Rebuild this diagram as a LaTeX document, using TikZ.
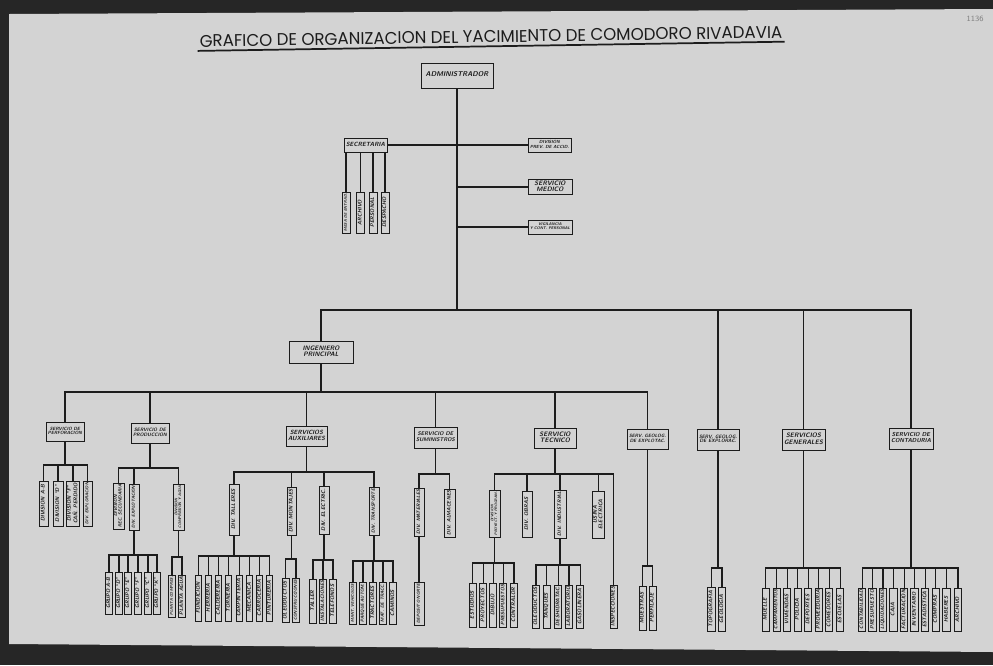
\documentclass[tikz,border=0pt]{standalone}
\usepackage{fontspec}
\usepackage{graphicx}
\newfontfamily\titlefont{Poppins}
\definecolor{paper}{HTML}{D3D3D3}
\definecolor{ink}{HTML}{1C1C1C}
\newcommand\fitw[2]{\resizebox{\ifdim\width>#1 #1\else\width\fi}{!}{#2}}
\newcommand\HB[6]{\node[hbx,minimum width=#4*0.75pt,minimum height=#5*0.75pt] (#1) at (#2,#3) {\fitw{\dimexpr#4pt*3/4-3pt\relax}{\begin{tabular}{@{}c@{}}#6\end{tabular}}};}
\newcommand\VB[6]{\node[vbx,minimum width={(#4-#3)*0.75pt},minimum height=#5*0.75pt] (#1) at (#2,{(#3+#4)/2}) {\fitw{\dimexpr(#4pt-#3pt)*3/4-2.5pt\relax}{\begin{tabular}{@{}c@{}}#6\end{tabular}}};}
\newcommand\tree[4]{\path (0,#2) coordinate (tb);
  \foreach \i in {1,...,#4}{\draw[ln] (#1) -- (#1 |- tb) -| (#3\i.east);}}
\begin{document}
\begin{tikzpicture}[x=0.75pt,y=-0.75pt,
  hbx/.style={draw=ink,line width=0.75pt,fill=paper,inner sep=0.5pt,text=ink,font=\sffamily\bfseries\itshape\fontsize{4.8}{5.0}\selectfont},
  vbx/.style={draw=ink,line width=0.75pt,fill=paper,inner sep=0.3pt,text=ink,rotate=90,font=\sffamily\bfseries\itshape\fontsize{4.0}{4.1}\selectfont},
  ln/.style={draw=ink,line width=0.95pt}]
\useasboundingbox (0,0) rectangle (993,665);
\fill[black!85] (0,0) rectangle (993,665);
\fill[paper] (9,14) -- (993,9) -- (993,652) -- (9,644) -- cycle;

% title
\node[inner xsep=1.5pt,inner ysep=2.6pt,rotate=0.9,text=ink] (title) at (491,36.5)
  {\resizebox{437pt}{9pt}{\titlefont GRAFICO DE ORGANIZACION DEL YACIMIENTO DE COMODORO RIVADAVIA}};
\draw[ink,line width=1.3pt] (title.south west) -- (title.south east);
\node[text=black!50,font=\sffamily\fontsize{6}{6}\selectfont] (pgno) at (975,19) {1136};

% upper part
\HB{admin}{457}{75.5}{72}{25}{{\fontsize{5.2}{5.5}\selectfont ADMINISTRADOR}}
\HB{secr}{365.5}{145}{43}{14}{SECRETARIA}
\HB{divprev}{549.5}{145}{43}{14}{DIVISION\\PREV. DE ACCID.}
\HB{medico}{550}{187}{44}{14}{SERVICIO\\MEDICO}
\HB{vigil}{550}{227}{44}{14}{VIGILANCIA\\Y CONT. PERSONAL}
\foreach \i/\x/\t in {1/346/MESA DE ENTRAD., 2/360.5/ARCHIVO, 3/373/PERSONAL, 4/385/DESPACHO}
  {\VB{sc\i}{\x}{192}{233}{8}{\t}}

% level 2 and 3
\HB{ingprin}{321}{352}{64}{22}{INGENIERO\\PRINCIPAL}
\HB{perfor}{65}{431.5}{38}{19}{SERVICIO DE\\PERFORACION}
\HB{produc}{150}{433}{38}{20}{SERVICIO DE\\PRODUCCION}
\HB{auxil}{306.5}{436}{41}{20}{SERVICIOS\\AUXILIARES}
\HB{sumin}{435.5}{437.5}{43}{21}{SERVICIO DE\\SUMINISTROS}
\HB{tecnico}{555}{438}{42}{20}{SERVICIO\\TECNICO}
\HB{geoexplot}{647.5}{439}{41}{20}{SERV. GEOLOG.\\DE EXPLOTAC.}
\HB{geoexplor}{718}{439.5}{42}{21}{SERV. GEOLOG.\\DE EXPLORAC.}
\HB{generales}{803.5}{439.5}{43}{21}{SERVICIOS\\GENERALES}
\HB{contad}{911}{438.5}{44}{21}{SERVICIO DE\\CONTADURIA}

% perforacion
\VB{pf1}{43.5}{481}{526}{9}{DIVISION A-B}
\VB{pf2}{58}{481}{526}{10}{DIVISION ``D''}
\VB{pf3}{73}{481}{526}{10}{DIVISION ``F''\\CAÑ. PERDIDO}
\VB{pf4}{87.5}{481}{526}{9}{DIV. EXPLORACION}
% produccion
\VB{pd1}{118.5}{483}{529}{11}{DIVISION\\REC. SECUNDARIA}
\VB{pd2}{134}{484}{530}{10}{DIV. EXPLOTACION}
\VB{pd3}{178.5}{484}{530}{11}{DIVISION\\COMPRESION Y AGUA}
\foreach \i/\x/\t in {1/109/GRUPO A-B, 2/119/GRUPO ``D'', 3/128/GRUPO ``E'', 4/138/GRUPO ``F'', 5/148/GRUPO ``C'', 6/157/GRUPO ``K''}
  {\VB{ex\i}{\x}{572}{614}{6.5}{\t}}
\foreach \i/\x/\t in {1/172/PLANTA COMPRES., 2/182/PLANTA AGUA}
  {\VB{cp\i}{\x}{575}{617}{6.5}{\t}}
% auxiliares
\VB{ax1}{234}{484}{535}{10}{DIV. TALLERES}
\VB{ax2}{291.5}{487}{535}{9}{DIV. MONTAJES}
\VB{ax3}{324}{486}{534}{10}{DIV. ELECTRIC.}
\VB{ax4}{374}{487}{535}{10}{DIV. TRANSPORTE}
\foreach \i/\x/\t in {1/198.7/FUNDICION, 2/208.7/HERRERIA, 3/218.7/CALDERERIA, 4/228.7/TORNERIA, 5/239.3/CARPINTERIA, 6/249.7/MECANICA, 7/259.7/CARROCERIA, 8/269.7/PINTURERIA}
  {\VB{ta\i}{\x}{575}{621}{6.5}{\t}}
\foreach \i/\x/\t in {1/285.5/OLEODUCTOS, 2/296/CONSTRUCCIONES}
  {\VB{mo\i}{\x}{578}{622}{7}{\t}}
\foreach \i/\x/\t in {1/313/TALLER, 2/323/INSTALACIONES, 3/333/TELEFONOS}
  {\VB{el\i}{\x}{579}{623}{7.5}{\t}}
\foreach \i/\x/\t in {1/353/MANT. VEHICULOS, 2/363/PARQUE AUTOM., 3/373/TRACTORES, 4/383/MAT. DE TRACC., 5/393/CAMINOS}
  {\VB{tr\i}{\x}{582}{624}{7}{\t}}
% suministros
\VB{su1}{419}{488}{536}{10}{DIV. MATERIALES}
\VB{su2}{449.5}{489}{537}{11}{DIV. ALMACENES}
\VB{dp1}{419}{582}{625}{10}{DEPOSITO NORTE}
% tecnico
\VB{te1}{494.5}{490}{537}{11}{DIVISION\\PROYECT. Y PROGRAM.}
\VB{te2}{527}{491}{537}{10}{DIV. OBRAS}
\VB{te3}{560}{490}{538}{12}{DIV. INDUSTRIAL}
\VB{te4}{598.5}{491}{538}{11}{USINA\\ELECTRICA}
\VB{te5}{613.5}{585}{628}{7}{INSPECCIONES}
\foreach \i/\x/\t in {1/472.7/ESTUDIOS, 2/483.3/PROYECTOS, 3/493.3/DIBUJO, 4/503.3/PRESUPUESTOS, 5/514/CONTRALOR}
  {\VB{pr\i}{\x}{583}{627}{7}{\t}}
\foreach \i/\x/\t in {1/536/OLEODUCTOS, 2/546.7/TANQUES, 3/558.3/DESHIDRATAC., 4/569/LABORATORIO, 5/580.3/GASOLINERA}
  {\VB{id\i}{\x}{585}{628}{7}{\t}}
% geologia, generales, contaduria
\foreach \i/\x/\t in {1/642.5/MUESTRAS, 2/652.5/PERFILAJE}
  {\VB{gx\i}{\x}{586}{630}{7}{\t}}
\foreach \i/\x/\t in {1/711.3/TOPOGRAFIA, 2/722/GEOLOGIA}
  {\VB{gr\i}{\x}{587}{631}{7.5}{\t}}
\foreach \i/\x/\t in {1/765.8/MUELLE, 2/776.5/CAMPAMENTOS, 3/787.2/VIVIENDAS, 4/797.8/POLICIA, 5/808.3/DEPORTES, 6/818.7/PROVEEDURIA, 7/829.2/COMEDORES, 8/840.2/ESCUELAS}
  {\VB{gn\i}{\x}{588}{631}{7}{\t}}
\foreach \i/\x/\t in {1/862.2/CONTABILIDAD, 2/872.7/PRESUPUESTO, 3/883/LIQUIDACIONES, 4/893.3/CAJA, 5/904.2/FACTURACION, 6/914.7/INVENTARIO, 7/925.2/ESTADISTICA, 8/935.8/COMPRAS, 9/946.7/HABERES, 10/958/ARCHIVO}
  {\VB{ct\i}{\x}{588}{631}{7.5}{\t}}

% connectors
\draw[ln] (secr.east) -- (divprev.west);
\draw[ln] (admin.south |- medico.west) -- (medico.west);
\draw[ln] (admin.south |- vigil.west) -- (vigil.west);
\foreach \i in {1,...,4}{\draw[ln] (sc\i.east |- secr.south) -- (sc\i.east);}
\path (0,310) coordinate (bus0);
\foreach \c in {ingprin,geoexplor,generales,contad}
  {\draw[ln] (admin.south) -- (admin.south |- bus0) -| (\c.north);}
\path (0,392) coordinate (bus1);
\foreach \c in {perfor,produc,auxil,sumin,tecnico,geoexplot}
  {\draw[ln] (ingprin.south) -- (ingprin.south |- bus1) -| (\c.north);}
\tree{perfor.south}{465}{pf}{4}
\tree{produc.south}{468}{pd}{3}
\tree{pd2.west}{555}{ex}{6}
\tree{pd3.west}{557}{cp}{2}
\tree{auxil.south}{472}{ax}{4}
\tree{ax1.west}{556}{ta}{8}
\tree{ax2.west}{559}{mo}{2}
\tree{ax3.west}{560}{el}{3}
\tree{ax4.west}{561}{tr}{5}
\tree{sumin.south}{474}{su}{2}
\tree{su1.west}{560}{dp}{1}
\tree{tecnico.south}{474}{te}{5}
\tree{te1.west}{563}{pr}{5}
\tree{te3.west}{565}{id}{5}
\tree{geoexplot.south}{566}{gx}{2}
\tree{geoexplor.south}{568}{gr}{2}
\tree{generales.south}{568}{gn}{8}
\tree{contad.south}{568}{ct}{10}
\end{tikzpicture}
\end{document}
